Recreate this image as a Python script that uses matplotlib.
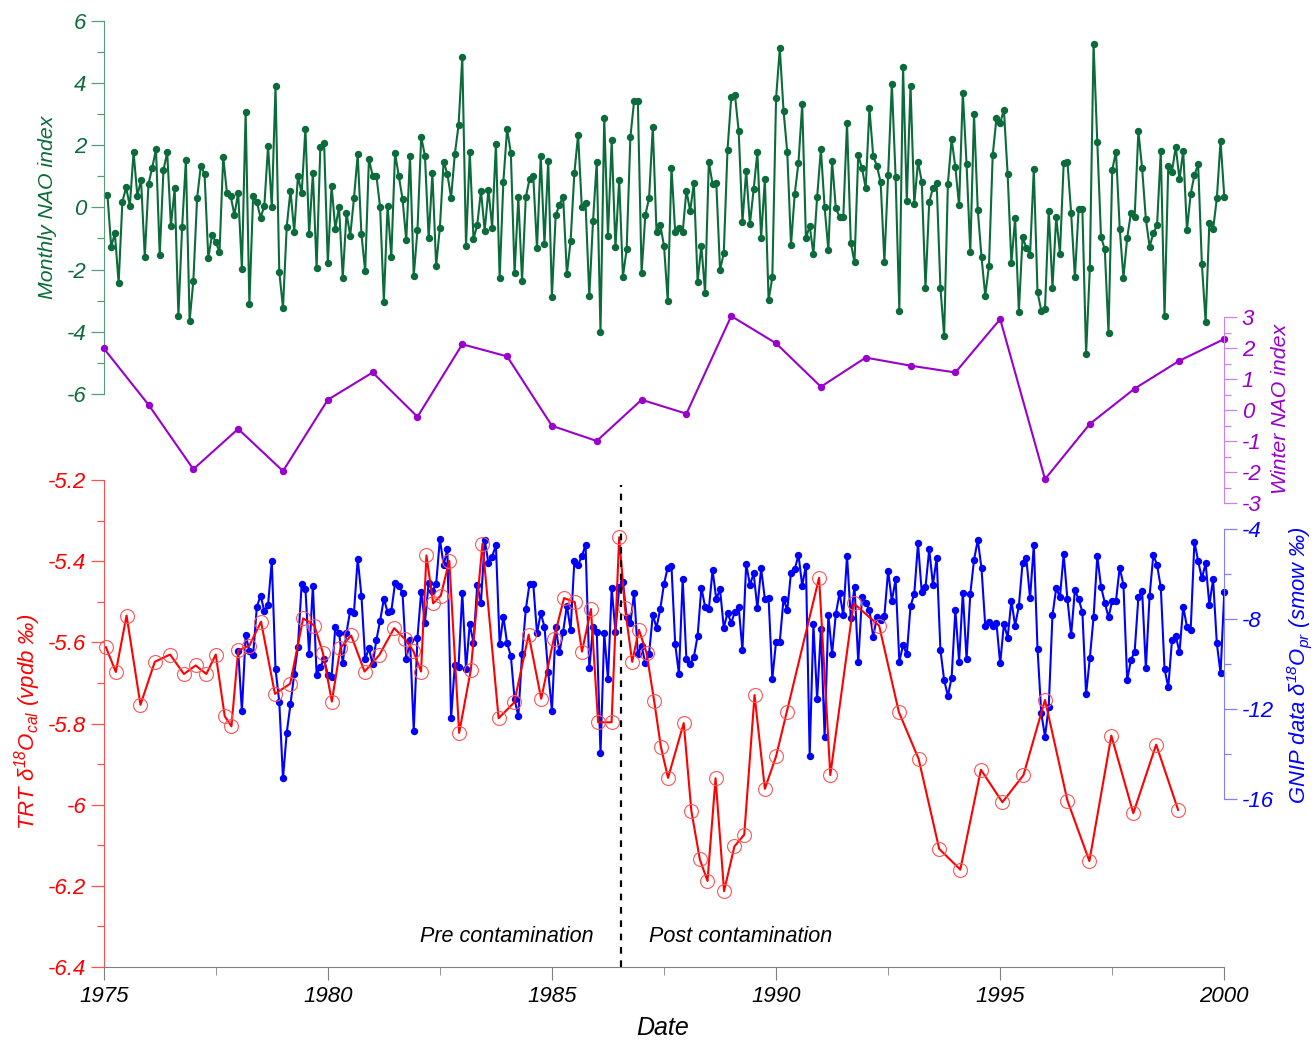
import numpy as np
import matplotlib.pyplot as plt
from matplotlib.ticker import MultipleLocator, FuncFormatter

plt.rcParams['font.family'] = ['Liberation Sans', 'DejaVu Sans']
plt.rcParams['font.style'] = 'italic'
plt.rcParams['axes.unicode_minus'] = False
plt.rcParams['mathtext.fontset'] = 'custom'
plt.rcParams['mathtext.rm'] = 'Liberation Sans:italic'
plt.rcParams['mathtext.it'] = 'Liberation Sans:italic'

# Monthly NAO index, Jan 1975 .. Dec 1999 (one value per month)
nao_monthly = [
    0.40, -1.26, -0.84, -2.44, 0.18, 0.64, 0.05, 1.77, 0.38, 0.87, -1.59, 0.76, 1.28, 1.86, -1.53,
    1.20, 1.77, -0.59, 0.61, -3.48, -0.63, 1.51, -3.65, -2.37, 0.29, 1.33, 1.07, -1.62, -0.89, -1.10,
    -1.45, 1.63, 0.45, 0.36, -0.25, 0.47, -1.99, 3.08, -3.12, 0.36, 0.16, -0.33, 0.04, 1.97, 0.00,
    3.90, -2.07, -3.23, -0.62, 0.54, -0.78, 1.01, 0.45, 2.53, -0.86, 1.11, -1.96, 1.94, 2.08, -1.80,
    0.70, -0.68, 0.02, -2.26, -0.19, -0.91, 0.29, 1.70, -0.87, -2.05, 1.55, 1.02, 1.02, 0.00, -3.03,
    0.05, -1.59, 1.74, 1.01, 0.27, -1.06, 1.66, -2.21, -0.73, 2.26, 1.66, -1.00, 1.09, -1.88, -0.65,
    1.47, 1.07, 0.31, 1.71, 2.64, 4.82, -1.24, 1.78, -1.02, -0.57, 0.54, -0.75, 0.56, -0.65, 2.05,
    -2.28, 0.83, 2.53, 1.74, -2.12, 0.32, -2.36, 0.32, 0.91, 1.01, -1.32, 1.66, -1.17, 1.50, -2.87,
    -0.25, 0.08, 0.34, -2.14, -1.08, 1.09, 2.33, 0.00, 0.13, -2.85, -0.44, 1.47, -4.02, 2.86, -0.92,
    2.15, -1.29, 0.89, -2.23, -1.35, 2.26, 3.42, 3.42, -2.12, -0.25, 0.29, 2.59, -0.80, -0.57, -1.23,
    -3.01, 1.28, -0.80, -0.65, -0.80, 0.54, -0.12, 0.79, -2.39, -1.23, -2.74, 1.47, 0.74, 0.79, -2.01,
    -1.48, 1.84, 3.54, 3.61, 2.44, -0.48, 1.17, -0.54, 0.58, 1.77, -0.98, 0.90, -2.98, -2.25, 3.50,
    5.11, 3.11, 1.77, -1.21, 0.43, 1.44, 3.31, -1.00, -0.59, -1.50, 0.34, 1.86, 0.00, -1.37, 1.49,
    -0.03, -0.30, -0.30, 2.72, -1.13, -1.77, 1.68, 1.25, 0.63, 3.18, 1.65, 1.33, 0.80, -1.75, 1.04,
    3.97, 0.99, -3.32, 4.51, 0.21, 3.91, 0.11, 1.47, 0.83, -2.60, 0.16, 0.63, 0.77, -2.58, -4.14,
    0.75, 2.19, 1.29, 0.06, 3.69, 1.39, -1.43, 2.99, -0.09, -1.59, -2.84, -1.88, 1.68, 2.86, 2.71,
    3.14, 1.06, -1.80, -0.35, -3.35, -0.96, -1.30, -1.53, 1.23, -2.73, -3.32, -3.27, -0.11, -2.58, -0.30,
    -1.49, 1.41, 1.47, -0.19, -2.25, -0.06, -0.04, -4.72, -1.96, 5.26, 2.09, -0.96, -1.34, -4.05, 1.20,
    1.79, -0.68, -2.26, -0.98, -0.19, -0.30, 2.45, 1.25, -0.38, -1.26, -0.84, -0.57, 1.81, -3.49, 1.34,
    1.15, 1.95, 0.90, 1.81, -0.73, 0.43, 1.04, 1.38, -1.83, -3.68, -0.49, -0.71, 0.29, 2.13, 0.34,
]

# Winter NAO index, one per year 1975..2000
winter_years = list(range(1975, 2001))
nao_winter = [2.0, 0.18, -1.9, -0.6, -1.96, 0.34, 1.22, -0.21, 2.13, 1.74, -0.5, -0.99, 0.34,
              -0.11, 3.04, 2.16, 0.76, 1.7, 1.44, 1.22, 2.94, -2.22, -0.44, 0.7, 1.6, 2.3]

# GNIP d18O precipitation, monthly from month 36 (end 1977) to Dec 1999
gnip_start_month = 36
gnip = [
    -9.39, -12.09, -8.70, -9.39, -9.59, -7.44, -6.95, -7.63, -7.36, -5.41, -10.22, -11.66, -15.07,
    -13.04, -11.78, -10.44, -9.21, -6.43, -6.65, -9.56, -6.50, -10.47, -10.10, -9.78, -10.47, -10.58,
    -8.36, -8.59, -9.93, -8.59, -7.61, -7.70, -5.30, -6.96, -9.78, -9.29, -10.00, -8.92, -8.06, -7.10,
    -7.66, -7.63, -6.40, -6.50, -6.84, -9.78, -8.92, -12.95, -8.81, -6.77, -8.15, -6.37, -6.74, -6.44,
    -4.43, -5.59, -4.89, -12.40, -10.03, -10.10, -6.81, -10.22, -8.21, -9.04, -6.47, -7.26,
    -4.47, -5.51, -5.21, -4.70, -9.10, -7.88, -9.07, -9.63, -11.56, -12.30, -9.56, -7.56, -6.43, -6.43,
    -8.62, -7.73, -8.33, -10.33, -12.07, -8.33, -9.47, -8.55, -7.39, -8.47, -5.41, -5.59, -5.19, -4.70,
    -10.18, -8.36, -8.55, -13.96, -8.62, -10.67, -6.62, -8.55, -6.58, -6.33, -7.91, -8.18, -6.81, -9.54,
    -9.17, -9.96, -9.54, -7.81, -8.37, -7.54, -6.43, -5.70, -5.63, -9.11, -10.43, -6.22, -9.78, -10.00,
    -9.66, -8.74, -6.59, -7.44, -7.56, -5.81, -7.10, -6.67, -8.37, -7.73, -8.15,
    -7.66, -7.47, -9.36, -5.54, -6.47, -5.96, -7.51, -5.73, -7.10, -7.07, -10.65, -8.99, -8.99, -7.10,
    -7.59, -5.93, -5.78, -5.14, -6.50, -5.61, -14.06, -8.22, -11.56, -8.43, -13.24, -7.81, -9.54, -7.76,
    -6.84, -7.81, -5.19, -7.93, -6.55, -9.91, -7.02, -7.26, -7.59, -8.77, -7.91, -8.03, -7.85, -5.84,
    -7.19, -6.22, -9.88, -9.14, -9.56, -7.41, -6.87, -4.62, -6.80, -6.58, -4.89, -6.47, -5.26, -9.36,
    -10.70, -11.41, -10.59, -7.59, -9.88, -6.81, -9.78, -6.87, -5.36, -4.47, -5.73, -8.28,
    -8.10, -8.28, -8.18, -9.96, -8.21, -8.81, -7.17, -8.28, -7.41, -5.48, -5.29, -7.07, -4.70, -9.32,
    -12.18, -13.21, -11.88, -7.81, -6.62, -7.02, -5.11, -7.10, -8.70, -6.70, -7.11, -7.66, -11.33, -9.73,
    -7.91, -5.19, -6.55, -7.26, -7.91, -7.17, -7.17, -5.70, -6.47, -10.70, -9.81, -9.44, -7.02, -6.73,
    -10.18, -6.96, -5.14, -5.59, -6.58, -10.21, -11.02, -8.92, -8.73, -9.47, -7.44, -8.33, -8.47, -4.55,
    -5.41, -6.18, -5.51, -7.36, -6.22, -9.07, -10.40, -6.77,
]

# TRT calcite d18O
trt_year = [1975.05, 1975.27, 1975.51, 1975.82, 1976.14, 1976.48, 1976.79, 1977.05, 1977.29, 1977.50,
            1977.70, 1977.85, 1978.00, 1978.25, 1978.51, 1978.82, 1979.16, 1979.45, 1979.70, 1979.89,
            1980.09, 1980.28, 1980.52, 1980.82, 1981.15, 1981.48, 1981.72, 1981.91, 1982.08, 1982.20,
            1982.35, 1982.52, 1982.71, 1982.93, 1983.19, 1983.45, 1983.81, 1984.16, 1984.48, 1984.76,
            1985.04, 1985.27, 1985.51, 1985.67, 1985.87, 1986.03, 1986.33, 1986.50, 1986.63, 1986.79,
            1986.94, 1987.11, 1987.28, 1987.43, 1987.59, 1987.94, 1988.11, 1988.30, 1988.47, 1988.65,
            1988.84, 1989.07, 1989.29, 1989.52, 1989.75, 1990.00, 1990.24, 1990.96, 1991.21, 1991.73,
            1992.30, 1992.74, 1993.18, 1993.64, 1994.11, 1994.57, 1995.05, 1995.52, 1996.00, 1996.50,
            1996.99, 1997.48, 1997.97, 1998.48, 1998.97]
trt_d18o = [-5.612, -5.673, -5.534, -5.754, -5.648, -5.630, -5.678, -5.657, -5.678, -5.630,
            -5.782, -5.807, -5.620, -5.608, -5.549, -5.727, -5.702, -5.541, -5.559, -5.626,
            -5.746, -5.614, -5.583, -5.672, -5.631, -5.565, -5.592, -5.622, -5.672, -5.386,
            -5.504, -5.485, -5.399, -5.823, -5.668, -5.357, -5.787, -5.748, -5.581, -5.739,
            -5.592, -5.491, -5.501, -5.623, -5.518, -5.797, -5.797, -5.341, -5.516, -5.648,
            -5.569, -5.626, -5.744, -5.857, -5.934, -5.799, -6.015, -6.135, -6.188, -5.935,
            -6.213, -6.103, -6.074, -5.730, -5.961, -5.881, -5.771, -5.441, -5.927, -5.504,
            -5.559, -5.772, -5.887, -6.109, -6.160, -5.914, -5.994, -5.927, -5.742, -5.990,
            -6.139, -5.830, -6.021, -5.852, -6.013]

contamination_year = 1986.55

GREEN = '#0b6b3a'
PURPLE = '#9a00cc'
W, H = 1315, 1045
X0, X1 = 103.7, 1224.3

fig = plt.figure(figsize=(W / 100, H / 100), dpi=100)


def make_axes(top, bottom, side):
    ax = fig.add_axes([X0 / W, 1 - bottom / H, (X1 - X0) / W, (bottom - top) / H])
    ax.set_facecolor('none')
    ax.set_xlim(1975, 2000)
    for s in ['top', 'bottom', 'left', 'right']:
        ax.spines[s].set_visible(s == side)
    if side == 'right':
        ax.yaxis.tick_right()
    ax.tick_params(axis='x', which='both', bottom=False, labelbottom=False)
    return ax


def style_y(ax, lim, major, minor, spine_col, label_col):
    ax.set_ylim(*lim)
    ax.yaxis.set_major_locator(MultipleLocator(major))
    ax.yaxis.set_minor_locator(MultipleLocator(minor))
    ax.yaxis.set_major_formatter(FuncFormatter(lambda v, p: f'{v:g}'))
    for s in ax.spines.values():
        s.set_color(spine_col)
    ax.tick_params(axis='y', which='major', length=9.5, width=0.9, color=spine_col,
                   labelcolor=label_col, labelsize=16, pad=3)
    ax.tick_params(axis='y', which='minor', length=5, width=0.9, color=spine_col)


ax_g = make_axes(20.7, 394.0, 'left')
ax_p = make_axes(317.3, 503.3, 'right')
ax_b = make_axes(529.3, 799.3, 'right')
ax_r = make_axes(480.0, 967.0, 'left')

style_y(ax_g, (-6, 6), 2, 1, '#5b9c78', GREEN)
style_y(ax_p, (-3, 3), 1, 0.5, '#cf80ee', PURPLE)
style_y(ax_b, (-16, -4), 4, 2, '#8080ff', 'blue')
style_y(ax_r, (-6.4, -5.2), 0.2, 0.1, '#ff5050', 'red')

months = 1975 + np.arange(1, len(nao_monthly) + 1) / 12
ax_g.plot(months, nao_monthly, color=GREEN, lw=1.5, marker='o', ms=4.3, clip_on=False)

ax_p.plot(winter_years, nao_winter, color=PURPLE, lw=1.5, marker='o', ms=4.3, clip_on=False)

gnip_x = 1975 + np.arange(gnip_start_month, gnip_start_month + len(gnip)) / 12
ax_b.plot(gnip_x, gnip, color='blue', lw=1.5, marker='o', ms=4.3, clip_on=False)

ax_r.plot(trt_year, trt_d18o, color='red', lw=1.5, clip_on=False)
ax_r.plot(trt_year, trt_d18o, 'o', mfc='none', mec='#ff5555', mew=0.8, ms=10, clip_on=False)
ax_r.axvline(contamination_year, ymin=0, ymax=0.99, color='black', ls=(0, (3, 3)), lw=1.6)

ax_r.spines['bottom'].set_visible(True)
ax_r.spines['bottom'].set_color('#808080')
ax_r.xaxis.set_major_locator(MultipleLocator(5))
ax_r.xaxis.set_minor_locator(MultipleLocator(2.5))
ax_r.tick_params(axis='x', which='major', bottom=True, labelbottom=True, length=9.5,
                 color='#808080', labelsize=16, pad=4)
ax_r.tick_params(axis='x', which='minor', bottom=True, length=6, color='#808080')

ax_r.text(1984.0, -6.326, 'Pre contamination', ha='center', va='center', fontsize=15.5)
ax_r.text(1989.2, -6.326, 'Post contamination', ha='center', va='center', fontsize=15.5)

fig.text(48 / W, 1 - 207 / H, 'Monthly NAO index', rotation=90, ha='center', va='center',
         color=GREEN, fontsize=15.3)
fig.text(1281 / W, 1 - 409 / H, 'Winter NAO index', rotation=90, ha='center', va='center',
         color=PURPLE, fontsize=15.3)
fig.text(28 / W, 1 - 722 / H, r'TRT δ$^{18}$O$_{cal}$ (vpdb ‰)', rotation=90, ha='center',
         va='center', color='red', fontsize=16)
fig.text(1299 / W, 1 - 665 / H, r'GNIP data δ$^{18}$O$_{pr}$ (smow ‰)', rotation=90, ha='center',
         va='center', color='blue', fontsize=15.8)
fig.text(663 / W, 1 - 1028 / H, 'Date', ha='center', va='center', fontsize=18)

fig.savefig('out.png', dpi=100)
